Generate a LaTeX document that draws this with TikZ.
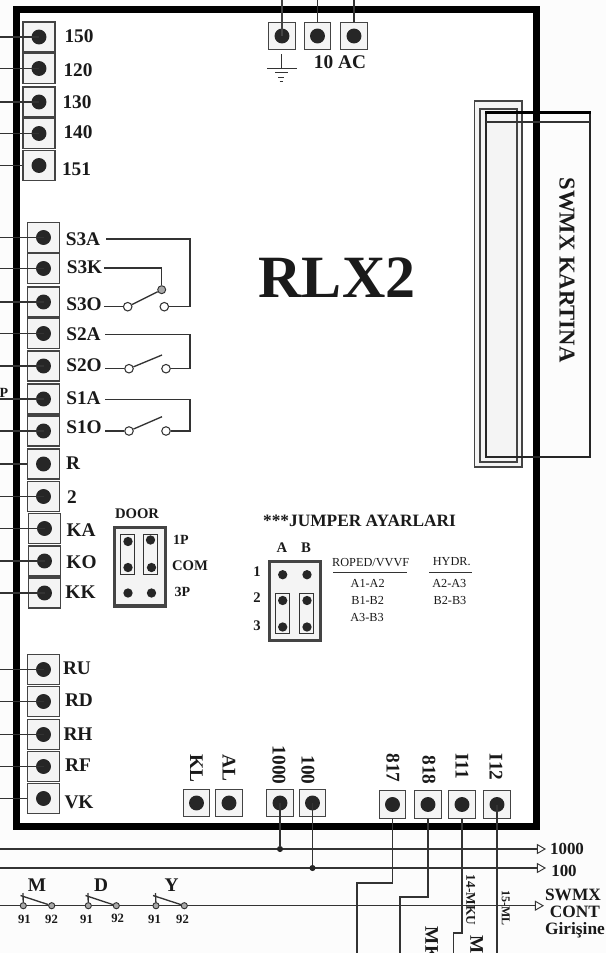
\documentclass[tikz,border=0pt]{standalone}
\usepackage{fontspec}
\usepackage{xcolor}
\usetikzlibrary{arrows.meta}
\setmainfont{Liberation Serif}
\definecolor{inkc}{HTML}{1A1A1A}
\definecolor{linec}{HTML}{333333}
\definecolor{boxc}{HTML}{444444}
\definecolor{boxf}{HTML}{F4F4F4}
\definecolor{dotc}{HTML}{262626}
\definecolor{pagec}{HTML}{FCFCFC}
\definecolor{contc}{HTML}{A8A8A8}
\tikzset{
  term/.style={rectangle, draw=boxc, fill=boxf, line width=0.9pt, minimum width=24pt, minimum height=22.5pt, inner sep=0pt,
    path picture={\fill[dotc] (path picture bounding box.center) circle (5.6pt);}},
  sterm/.style={term, minimum width=20pt, minimum height=20.5pt},
  lab/.style={text=inkc, inner sep=0pt, font=\bfseries\fontsize{14.5}{14.5}\selectfont},
  mlab/.style={text=inkc, inner sep=0pt, font=\bfseries\fontsize{10.5}{10.5}\selectfont},
  slab/.style={text=inkc, inner sep=0pt, font=\fontsize{9.2}{9.2}\selectfont},
  wire/.style={draw=linec, line width=1pt},
  jframe/.style={rectangle, draw=boxc, fill=boxf, line width=2.4pt, minimum width=38pt, minimum height=59pt, inner sep=0pt},
  jbar/.style={rectangle, draw=linec, line width=0.8pt, minimum width=10.7pt, minimum height=29.8pt, inner sep=0pt},
  jpin/.style={circle, fill=dotc, minimum size=7pt, inner sep=0pt},
  opencont/.style={circle, draw=linec, fill=white, line width=0.8pt, minimum size=6.4pt, inner sep=0pt},
  graycont/.style={circle, draw=linec, fill=contc, line width=0.7pt, minimum size=4.6pt, inner sep=0pt},
  junc/.style={circle, fill=dotc, minimum size=4.6pt, inner sep=0pt},
  outarrow/.style={wire, -{Triangle[open, length=6.8pt, width=7.6pt, line width=0.7pt]}}
}
\begin{document}
\begin{tikzpicture}[x=0.75pt, y=-0.75pt]
\clip (0,0) rectangle (606,953);
\fill[pagec] (0,0) rectangle (606,953);

\node[rectangle, draw=black, fill=white, line width=5.25pt, minimum width=390pt, minimum height=613pt, inner sep=0pt] (board) at (276.5,417.75) {};

\node[rectangle, draw=boxc, fill=boxf, line width=0.9pt, minimum width=35.6pt, minimum height=274.5pt] (cardout) at (498.25,284) {};
\node[rectangle, draw=boxc, line width=1.2pt, minimum width=27.75pt, minimum height=264.75pt] (cardmid) at (498.5,285.5) {};
\node[rectangle, draw=black!85, line width=0.9pt, minimum width=78pt, minimum height=258pt] (cardin) at (538,285) {};
\coordinate (cardl) at (486,122);
\coordinate (cardr) at (590,122);
\draw[line width=2.6pt, black] (cardin.north west) -- (cardin.north east);
\draw[wire] (cardl) -- (cardr);
\node[lab, rotate=-90, font=\bfseries\fontsize{17}{17}\selectfont] (swmx) at (567,270) {SWMX KARTINA};
\node[lab, font=\bfseries\fontsize{45}{45}\selectfont] (rlx) at (337,278) {RLX2};

\node[term] (t150) at (39,37) {};
\node[term] (t120) at (39,68.5) {};
\node[term] (t130) at (39,102) {};
\node[term] (t140) at (39,133.5) {};
\node[term] (t151) at (39,165.5) {};
\node[term] (ts3a) at (43.5,237.5) {};
\node[term] (ts3k) at (43.5,268.5) {};
\node[term] (ts3o) at (43.5,302) {};
\node[term] (ts2a) at (43.5,333.5) {};
\node[term] (ts2o) at (43.5,366) {};
\node[term] (ts1a) at (43.5,399) {};
\node[term] (ts1o) at (43.5,431) {};
\node[term] (tr) at (43.5,464) {};
\node[term] (t2) at (43.5,496.5) {};
\node[term] (tka) at (44.5,528.5) {};
\node[term] (tko) at (44.5,561) {};
\node[term] (tkk) at (44.5,593) {};
\node[term] (tru) at (43.5,669.5) {};
\node[term] (trd) at (43.5,701.5) {};
\node[term] (trh) at (43.5,734.5) {};
\node[term] (trf) at (43.5,766.5) {};
\node[term] (tvk) at (43.5,798.5) {};

\node[sterm] (tgnd) at (282,36) {};
\node[sterm] (t10) at (317.5,36) {};
\node[sterm] (tac) at (354,36) {};

\node[sterm] (tkl) at (196.5,803) {};
\node[sterm] (tal) at (229,803) {};
\node[sterm] (t1000) at (280,803) {};
\node[sterm] (t100) at (312.5,803) {};
\node[sterm] (t817) at (392.5,804.5) {};
\node[sterm] (t818) at (428,804.5) {};
\node[sterm] (t111) at (462,804.5) {};
\node[sterm] (t112) at (497,804.5) {};

\node[lab] (l150) at (79,36) {150};
\node[lab] (l120) at (78,70) {120};
\node[lab] (l130) at (77,102) {130};
\node[lab] (l140) at (78,132.5) {140};
\node[lab] (l151) at (76.5,169) {151};
\node[lab] (ls3a) at (83,239) {S3A};
\node[lab] (ls3k) at (84.5,267) {S3K};
\node[lab] (ls3o) at (84,304) {S3O};
\node[lab] (ls2a) at (83.5,334) {S2A};
\node[lab] (ls2o) at (84,365) {S2O};
\node[lab] (ls1a) at (83.5,398) {S1A};
\node[lab] (ls1o) at (84,427) {S1O};
\node[lab] (lr) at (73,463) {R};
\node[lab] (l2) at (72,497) {2};
\node[lab] (lka) at (81,530) {KA};
\node[lab] (lko) at (81.5,562) {KO};
\node[lab] (lkk) at (80.5,592) {KK};
\node[lab] (lru) at (77,668) {RU};
\node[lab] (lrd) at (79,700) {RD};
\node[lab] (lrh) at (78,734) {RH};
\node[lab] (lrf) at (78,765) {RF};
\node[lab] (lvk) at (79,802) {VK};
\node[lab] (l10ac) at (340,62) {10 AC};
\node[mlab] (lp) at (4,393) {P};

\node[lab, rotate=-90] (lkl) at (196.5,768) {KL};
\node[lab, rotate=-90] (lal) at (229,768) {AL};
\node[lab, rotate=-90] (l1000) at (279,765) {1000};
\node[lab, rotate=-90] (l100) at (308,770) {100};
\node[lab, rotate=-90] (l817) at (393,768) {817};
\node[lab, rotate=-90] (l818) at (429,770) {818};
\node[lab, rotate=-90] (li11) at (462,766) {I11};
\node[lab, rotate=-90] (li12) at (496,767) {I12};

\coordinate (w150) at (0,37);
\coordinate (w120) at (0,68.5);
\coordinate (w130) at (0,102);
\coordinate (w140) at (0,133.5);
\coordinate (w151) at (0,165.5);
\coordinate (ws3a) at (0,237.5);
\coordinate (ws3k) at (0,268.5);
\coordinate (ws3o) at (0,302);
\coordinate (ws2a) at (0,333.5);
\coordinate (ws2o) at (0,366);
\coordinate (ws1a) at (0,399);
\coordinate (ws1o) at (0,431);
\coordinate (wr) at (0,464);
\coordinate (w2) at (0,496.5);
\coordinate (wka) at (0,528.5);
\coordinate (wko) at (0,561);
\coordinate (wkk) at (0,593);
\coordinate (wru) at (0,669.5);
\coordinate (wrd) at (0,701.5);
\coordinate (wrh) at (0,734.5);
\coordinate (wrf) at (0,766.5);
\coordinate (wvk) at (0,798.5);
\coordinate (wgnd) at (282,0);
\coordinate (w10) at (317.5,0);
\coordinate (wac) at (354,0);

\draw[wire] (w150) -- (t150.center);
\draw[wire] (w120) -- (t120.center);
\draw[wire] (w130) -- (t130.center);
\draw[wire] (w140) -- (t140.center);
\draw[wire] (w151) -- (t151.west);
\draw[wire] (ws3a) -- (ts3a.center);
\draw[wire] (ws3k) -- (ts3k.center);
\draw[wire] (ws3o) -- (ts3o.center);
\draw[wire] (ws2a) -- (ts2a.center);
\draw[wire] (ws2o) -- (ts2o.center);
\draw[wire] (ws1a) -- (ts1a.center);
\draw[wire] (ws1o) -- (ts1o.center);
\draw[wire] (wr) -- (tr.west);
\draw[wire] (w2) -- (t2.center);
\draw[wire] (wka) -- (tka.center);
\draw[wire] (wko) -- (tko.center);
\draw[wire] (wkk) -- (tkk.center);
\draw[wire] (wru) -- (tru.center);
\draw[wire] (wrd) -- (trd.center);
\draw[wire] (wrh) -- (trh.center);
\draw[wire] (wrf) -- (trf.center);
\draw[wire] (wvk) -- (tvk.west);
\draw[wire, draw=boxc, line width=1.3pt] (wgnd) -- (tgnd.center);
\draw[wire] (w10) -- (t10.north);
\draw[wire] (wac) -- (tac.north);

\coordinate (g0) at (281,54);
\coordinate (g1) at (281,68.3);
\coordinate (g1a) at (267,68.3);
\coordinate (g1b) at (296.5,68.3);
\coordinate (g2a) at (275,72.7);
\coordinate (g2b) at (288,72.7);
\coordinate (g3a) at (278,77);
\coordinate (g3b) at (284,77);
\coordinate (g4a) at (279.5,81);
\coordinate (g4b) at (282.5,81);
\draw[line width=0.6pt, linec] (g0) -- (g1);
\draw[line width=0.6pt, linec] (g1a) -- (g1b);
\draw[line width=0.6pt, linec] (g2a) -- (g2b);
\draw[line width=0.6pt, linec] (g3a) -- (g3b);
\draw[line width=0.6pt, linec] (g4a) -- (g4b);

\node[opencont] (c3l) at (127.7,306.7) {};
\node[opencont] (c3r) at (164.3,306.7) {};
\node[graycont, minimum size=6pt] (c3g) at (161.7,289.7) {};
\node[opencont] (c2l) at (129,368.7) {};
\node[opencont] (c2r) at (166,368.7) {};
\node[opencont] (c1l) at (129,431) {};
\node[opencont] (c1r) at (166,431) {};

\coordinate (s3ka) at (104,268);
\coordinate (s3kb) at (161.7,268);
\coordinate (s3aa) at (106,239);
\coordinate (s3ab) at (190,239);
\coordinate (s3ob) at (104,306.7);
\coordinate (s3oc) at (190,306.7);
\coordinate (s2aa) at (105,334.7);
\coordinate (s2ab) at (190,334.7);
\coordinate (s2ob) at (105,368.7);
\coordinate (s2oc) at (190,368.7);
\coordinate (s2l) at (162,355);
\coordinate (s1aa) at (105,399.7);
\coordinate (s1ab) at (190,399.7);
\coordinate (s1ob) at (105,431);
\coordinate (s1oc) at (190,431);
\coordinate (s1l) at (162,416.7);

\draw[wire] (s3aa) -- (s3ab) -- (s3oc) -- (c3r);
\draw[wire] (s3ob) -- (c3l);
\draw[wire] (s3ka) -- (s3kb) -- (c3g);
\draw[wire] (c3l) -- (c3g);
\draw[wire] (s2aa) -- (s2ab) -- (s2oc) -- (c2r);
\draw[wire] (s2ob) -- (c2l);
\draw[wire] (c2l) -- (s2l);
\draw[wire] (s1aa) -- (s1ab) -- (s1oc) -- (c1r);
\draw[wire] (s1ob) -- (c1l);
\draw[wire] (c1l) -- (s1l);

\node[jframe] (door) at (140,566.7) {};
\node[jbar] (da) at (127.8,554.7) {};
\node[jbar] (db) at (150.5,554.7) {};
\node[jpin] (d1) at (128,541.5) {};
\node[jpin] (d2) at (150.5,540) {};
\node[jpin] (d3) at (128,567.5) {};
\node[jpin] (d4) at (151.5,567.5) {};
\node[jpin] (d5) at (128,593) {};
\node[jpin] (d6) at (151.5,593) {};
\node[mlab, font=\bfseries\fontsize{11}{11}\selectfont] (ldoor) at (137,514) {DOOR};
\node[mlab] (l1p) at (181,540) {1P};
\node[mlab, font=\bfseries\fontsize{11}{11}\selectfont] (lcom) at (190,565.5) {COM};
\node[mlab] (l3p) at (182.5,592) {3P};

\node[lab, font=\bfseries\fontsize{13}{13}\selectfont] (ljump) at (359.5,520.7) {***JUMPER AYARLARI};
\node[jframe] (jump) at (295,600.8) {};
\node[jbar] (ja) at (282.8,613.3) {};
\node[jbar] (jb) at (306.8,613.3) {};
\node[jpin] (j1) at (282.7,574.7) {};
\node[jpin] (j2) at (307,574.7) {};
\node[jpin] (j3) at (282.7,600.5) {};
\node[jpin] (j4) at (307,600.5) {};
\node[jpin] (j5) at (282.7,627) {};
\node[jpin] (j6) at (307,627) {};
\node[mlab, font=\bfseries\fontsize{11}{11}\selectfont] (la) at (282,548) {A};
\node[mlab, font=\bfseries\fontsize{11}{11}\selectfont] (lb) at (306,548) {B};
\node[mlab, font=\bfseries\fontsize{11}{11}\selectfont] (n1) at (257,572) {1};
\node[mlab, font=\bfseries\fontsize{11}{11}\selectfont] (n2) at (257,598) {2};
\node[mlab, font=\bfseries\fontsize{11}{11}\selectfont] (n3) at (257,625.5) {3};

\node[slab] (lroped) at (370.7,562.7) {ROPED/VVVF};
\node[slab] (lhydr) at (451.7,561.5) {HYDR.};
\coordinate (ropa) at (333,572.7);
\coordinate (ropb) at (407,572.7);
\coordinate (hyda) at (429,572.7);
\coordinate (hydb) at (472.3,572.7);
\draw[wire] (ropa) -- (ropb);
\draw[wire] (hyda) -- (hydb);
\node[slab] (r1) at (367.7,583) {A1-A2};
\node[slab] (r2) at (367.7,600) {B1-B2};
\node[slab] (r3) at (367,617) {A3-B3};
\node[slab] (h1) at (449.3,583) {A2-A3};
\node[slab] (h2) at (450,600) {B2-B3};

\coordinate (a1000) at (0,849);
\coordinate (e1000) at (546,849);
\coordinate (a100) at (0,868);
\coordinate (e100) at (546,868);
\coordinate (asw) at (0,905.7);
\coordinate (esw) at (544,905.7);
\draw[outarrow] (a1000) -- (e1000);
\draw[outarrow] (a100) -- (e100);
\draw[outarrow] (asw) -- (esw);
\node[junc] (j1000) at (280,849) {};
\node[junc] (j100) at (312.5,868) {};
\draw[wire] (t1000.center) -- (j1000);
\draw[wire] (t100.center) -- (j100);

\coordinate (b817a) at (392.5,883);
\coordinate (b817b) at (357,883);
\coordinate (b817c) at (357,953);
\coordinate (b818a) at (428,897);
\coordinate (b818b) at (400,897);
\coordinate (b818c) at (400,953);
\coordinate (b111a) at (462,933);
\coordinate (b111b) at (453.7,933);
\coordinate (b111c) at (453.7,953);
\coordinate (b112c) at (497,953);
\draw[wire] (t817.south) -- (b817a) -- (b817b) -- (b817c);
\draw[wire] (t818.south) -- (b818a) -- (b818b) -- (b818c);
\draw[wire] (t111.south) -- (b111a) -- (b111b) -- (b111c);
\draw[wire] (t112.center) -- (b112c);

\node[mlab, rotate=-90, font=\bfseries\fontsize{10}{10}\selectfont] (l14) at (470.7,900) {14-MKU};
\node[mlab, rotate=-90, font=\bfseries\fontsize{9}{9}\selectfont] (l15) at (505.7,908) {15-ML};
\node[lab, rotate=-90, anchor=west] (lmk) at (431.7,926.7) {MK};
\node[lab, rotate=-90, anchor=west] (lml) at (476.7,935) {ML};

\node[lab, font=\bfseries\fontsize{12.7}{12.7}\selectfont] (o1000) at (567,849) {1000};
\node[lab, font=\bfseries\fontsize{12.7}{12.7}\selectfont] (o100) at (564,871) {100};
\node[lab, font=\bfseries\fontsize{13}{13}\selectfont] (oswmx) at (573,895) {SWMX};
\node[lab, font=\bfseries\fontsize{13}{13}\selectfont] (ocont) at (575,912) {CONT};
\node[lab, font=\bfseries\fontsize{13}{13}\selectfont] (ogir) at (575,930) {Girişine};

\node[graycont] (m1) at (23.3,905.7) {};
\node[graycont] (m2) at (51.7,905.7) {};
\node[graycont] (d91) at (88.3,905.7) {};
\node[graycont] (d92) at (116.3,905.7) {};
\node[graycont] (y1) at (156,905.7) {};
\node[graycont] (y2) at (184.3,905.7) {};
\coordinate (mt) at (23,893);
\coordinate (ml) at (20.5,895.5);
\coordinate (dt) at (88,893);
\coordinate (dl) at (85.5,895.5);
\coordinate (yt) at (155.5,893);
\coordinate (yl) at (153,895.5);
\draw[wire] (m1) -- (mt);
\draw[wire] (ml) -- (m2);
\draw[wire] (d91) -- (dt);
\draw[wire] (dl) -- (d92);
\draw[wire] (y1) -- (yt);
\draw[wire] (yl) -- (y2);
\node[lab] (lm) at (37,885) {M};
\node[lab] (ld) at (101,885) {D};
\node[lab] (ly) at (171.7,885) {Y};
\node[mlab, font=\bfseries\fontsize{9.5}{9.5}\selectfont] (m91) at (24.5,919) {91};
\node[mlab, font=\bfseries\fontsize{9.5}{9.5}\selectfont] (m92) at (51.5,919) {92};
\node[mlab, font=\bfseries\fontsize{9.5}{9.5}\selectfont] (d91l) at (86.5,919) {91};
\node[mlab, font=\bfseries\fontsize{9.5}{9.5}\selectfont] (d92l) at (117.7,918) {92};
\node[mlab, font=\bfseries\fontsize{9.5}{9.5}\selectfont] (y91) at (154.5,919) {91};
\node[mlab, font=\bfseries\fontsize{9.5}{9.5}\selectfont] (y92) at (182.5,919) {92};
\end{tikzpicture}
\end{document}
